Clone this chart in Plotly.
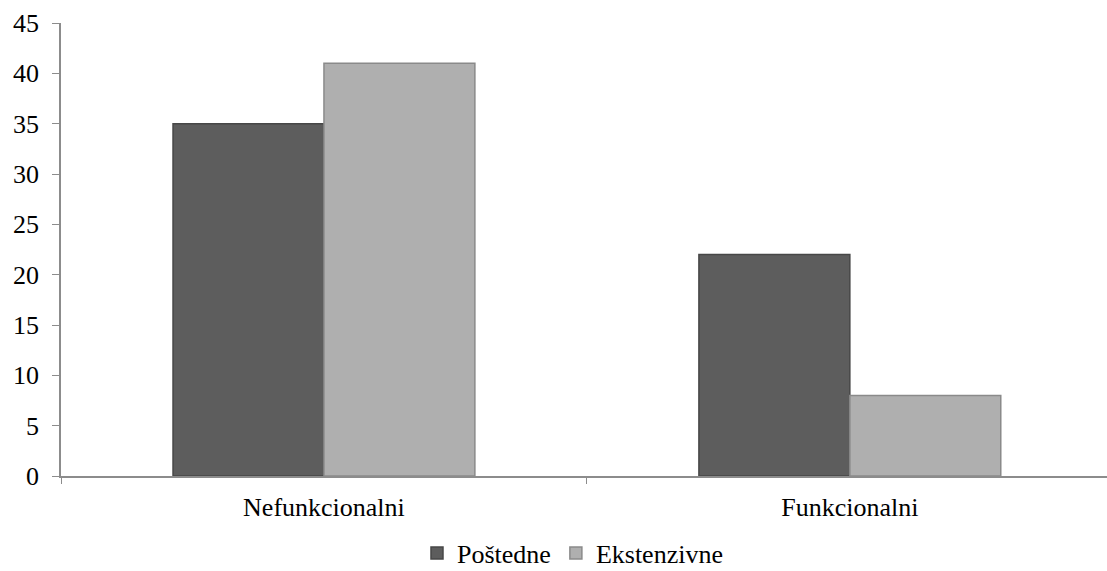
import plotly.graph_objects as go

categories = ["Nefunkcionalni", "Funkcionalni"]
postedne = [35, 22]
ekstenzivne = [41, 8]
series_names = ["Poštedne", "Ekstenzivne"]

font_family = "Liberation Serif"

fig = go.Figure()
fig.add_trace(go.Bar(
    x=categories, y=postedne, name=series_names[0],
    marker=dict(color="#5d5d5d", line=dict(color="#474747", width=1.5)),
))
fig.add_trace(go.Bar(
    x=categories, y=ekstenzivne, name=series_names[1],
    marker=dict(color="#afafaf", line=dict(color="#8a8a8a", width=1.5)),
))

fig.update_layout(
    width=1107, height=571,
    margin=dict(l=61, r=0, t=23, b=95, autoexpand=False),
    paper_bgcolor="white", plot_bgcolor="white",
    barmode="group", bargap=0.426, bargroupgap=0,
    font=dict(family=font_family, size=26, color="black"),
    showlegend=True,
    legend=dict(orientation="h", x=0.489, xanchor="center", y=-0.17, yanchor="middle",
                font=dict(family=font_family, size=26, color="black"),
                itemwidth=30, traceorder="normal"),
    xaxis=dict(
        range=[-0.5, 1.489], showline=True, linecolor="#8c8c8c", linewidth=1.5,
        ticks="outside", tickson="boundaries", ticklen=6, tickcolor="#8c8c8c",
        showgrid=False, zeroline=False, ticklabelstandoff=7, automargin=False,
        tickfont=dict(family=font_family, size=26, color="black"),
    ),
    yaxis=dict(
        range=[0, 45], dtick=5, showline=True, linecolor="#8c8c8c", linewidth=1.5,
        ticks="outside", ticklen=7, tickcolor="#8c8c8c",
        showgrid=False, zeroline=False, automargin=False, ticklabelstandoff=8,
        tickfont=dict(family=font_family, size=26, color="black"),
    ),
)

fig.write_html("out.html", config={"displayModeBar": False},
               post_script="document.body.style.margin='0';document.body.style.padding='0';")
